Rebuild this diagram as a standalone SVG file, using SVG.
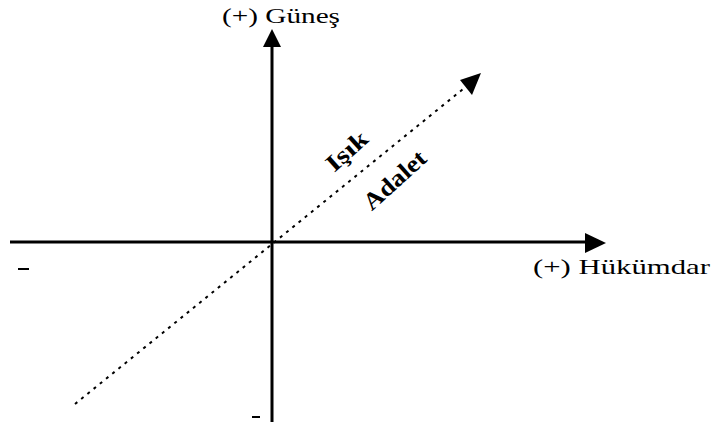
<svg xmlns="http://www.w3.org/2000/svg" width="712" height="428" viewBox="0 0 712 428">
<style>
.t{font-family:"Liberation Serif","Times New Roman",serif;fill:#000}
.ax{stroke:#000;stroke-width:3;fill:none}
.dot{stroke:#000;stroke-width:2;stroke-dasharray:3 5;fill:none}
</style>
<rect width="712" height="428" fill="#fff"/>
<g id="connectors">
<line class="ax" x1="10" y1="242" x2="588" y2="242"/>
<polygon points="606,243 585,233 585,253" fill="#000"/>
<line class="ax" x1="272" y1="422" x2="272" y2="45"/>
<polygon points="272,29 263,47 281,47" fill="#000"/>
<line class="dot" x1="75" y1="404" x2="468" y2="85"/>
<polygon points="481,73 460,80 472,95" fill="#000"/>
</g>
<g id="gunes"><text class="t" x="222" y="23" font-size="21" textLength="118" lengthAdjust="spacingAndGlyphs">(+) Güneş</text></g>
<g id="hukumdar"><text class="t" x="533" y="274" font-size="21" textLength="177" lengthAdjust="spacingAndGlyphs">(+) Hükümdar</text></g>
<g id="isik"><text class="t" transform="translate(352,157) rotate(-42)" font-size="24" text-anchor="middle" font-weight="bold" textLength="48" lengthAdjust="spacingAndGlyphs">Işık</text></g>
<g id="adalet"><text class="t" transform="translate(400,186) rotate(-42)" font-size="24" text-anchor="middle" font-weight="bold" textLength="76" lengthAdjust="spacingAndGlyphs">Adalet</text></g>
<g id="minus-left"><rect x="18" y="268" width="11" height="2" fill="#000"/></g>
<g id="minus-bottom"><rect x="252" y="416" width="8" height="2" fill="#000"/></g>
</svg>
